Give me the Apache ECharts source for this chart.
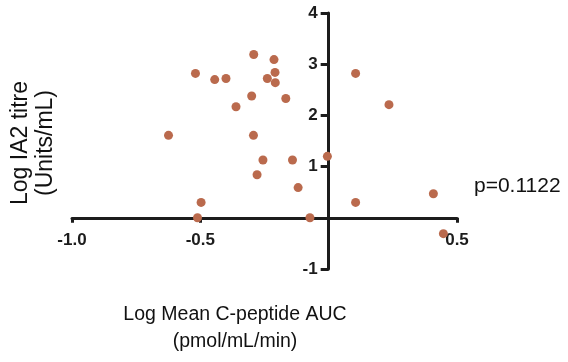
<!DOCTYPE html>
<html>
<head>
<meta charset="utf-8">
<script src="https://cdn.jsdelivr.net/npm/echarts@6/dist/echarts.min.js"></script>
<style>html,body{margin:0;padding:0;background:#fff}#c{width:568px;height:362px}</style>
</head>
<body>
<div id="c"></div>
<script>
var xValues = [-0.519,-0.444,-0.400,-0.292,-0.213,-0.209,-0.239,-0.208,-0.300,-0.167,-0.361,-0.624,-0.293,-0.256,-0.141,-0.005,-0.279,-0.119,-0.497,-0.511,-0.073,0.105,0.235,0.105,0.408,0.447];
var yValues = [2.82,2.70,2.72,3.19,3.09,2.84,2.72,2.64,2.38,2.33,2.17,1.61,1.61,1.13,1.13,1.20,0.84,0.59,0.30,0.00,0.00,2.82,2.21,0.30,0.47,-0.31];
var xTickLabels = {'-1':'-1.0','-0.5':'-0.5','0':'','0.5':'0.5'};
var yTickLabels = {'-1':'-1','0':'','1':'1','2':'2','3':'3','4':'4'};
var xTitle = 'Log Mean C-peptide AUC\n(pmol/mL/min)';
var yTitle = 'Log IA2 titre\n(Units/mL)';
var pText = 'p=0.1122';

var xMin = -1, xMax = 0.5, yMin = -1, yMax = 4;
var gridL = 72, gridR = 111, gridT = 13, gridB = 93, W = 568, H = 362;
// shift the axes so they cross at zero
var yAxisOffset = -((0 - xMin) / (xMax - xMin)) * (W - gridL - gridR);
var xAxisOffset = -((0 - yMin) / (yMax - yMin)) * (H - gridT - gridB);

var points = xValues.map(function(x,i){return [x,yValues[i]];});
var axisColor = '#1c1c1c';
var font = 'Liberation Sans, Arial, Helvetica, sans-serif';
var chart = echarts.init(document.getElementById('c'), null, {renderer:'canvas'});
chart.setOption({
  animation:false,
  grid:{left:gridL,right:gridR,top:gridT,bottom:gridB,containLabel:false},
  xAxis:{type:'value',min:xMin,max:xMax,interval:0.5,position:'bottom',offset:xAxisOffset,
    splitLine:{show:false},
    axisLine:{onZero:false,lineStyle:{color:axisColor,width:3}},
    axisTick:{length:5,lineStyle:{color:axisColor,width:3}},
    axisLabel:{margin:14,color:axisColor,fontFamily:font,fontWeight:'bold',fontSize:17,
      formatter:function(v){var k=String(Math.round(v*10)/10);return xTickLabels[k]!==undefined?xTickLabels[k]:String(v);}}
  },
  yAxis:{type:'value',min:yMin,max:yMax,interval:1,position:'left',offset:yAxisOffset,
    splitLine:{show:false},
    axisLine:{onZero:false,lineStyle:{color:axisColor,width:3}},
    axisTick:{length:8,lineStyle:{color:axisColor,width:3}},
    axisLabel:{margin:11,color:axisColor,fontFamily:font,fontWeight:'bold',fontSize:17,
      formatter:function(v){var k=String(Math.round(v));return yTickLabels[k]!==undefined?yTickLabels[k]:String(v);}}
  },
  series:[{type:'scatter',data:points,symbolSize:9,itemStyle:{color:'#ba6a4d',opacity:1},z:5}],
  graphic:[
    {type:'text',x:235,y:328,style:{text:xTitle,font:'19.5px '+font,fill:'#111',align:'center',verticalAlign:'middle',lineHeight:27}},
    {type:'text',x:33,y:143,rotation:Math.PI/2,style:{text:yTitle,font:'23px '+font,fill:'#111',align:'center',verticalAlign:'middle',lineHeight:25}},
    {type:'text',x:474,y:186,style:{text:pText,font:'21px '+font,fill:'#111',align:'left',verticalAlign:'middle'}}
  ]
});
</script>
</body>
</html>
